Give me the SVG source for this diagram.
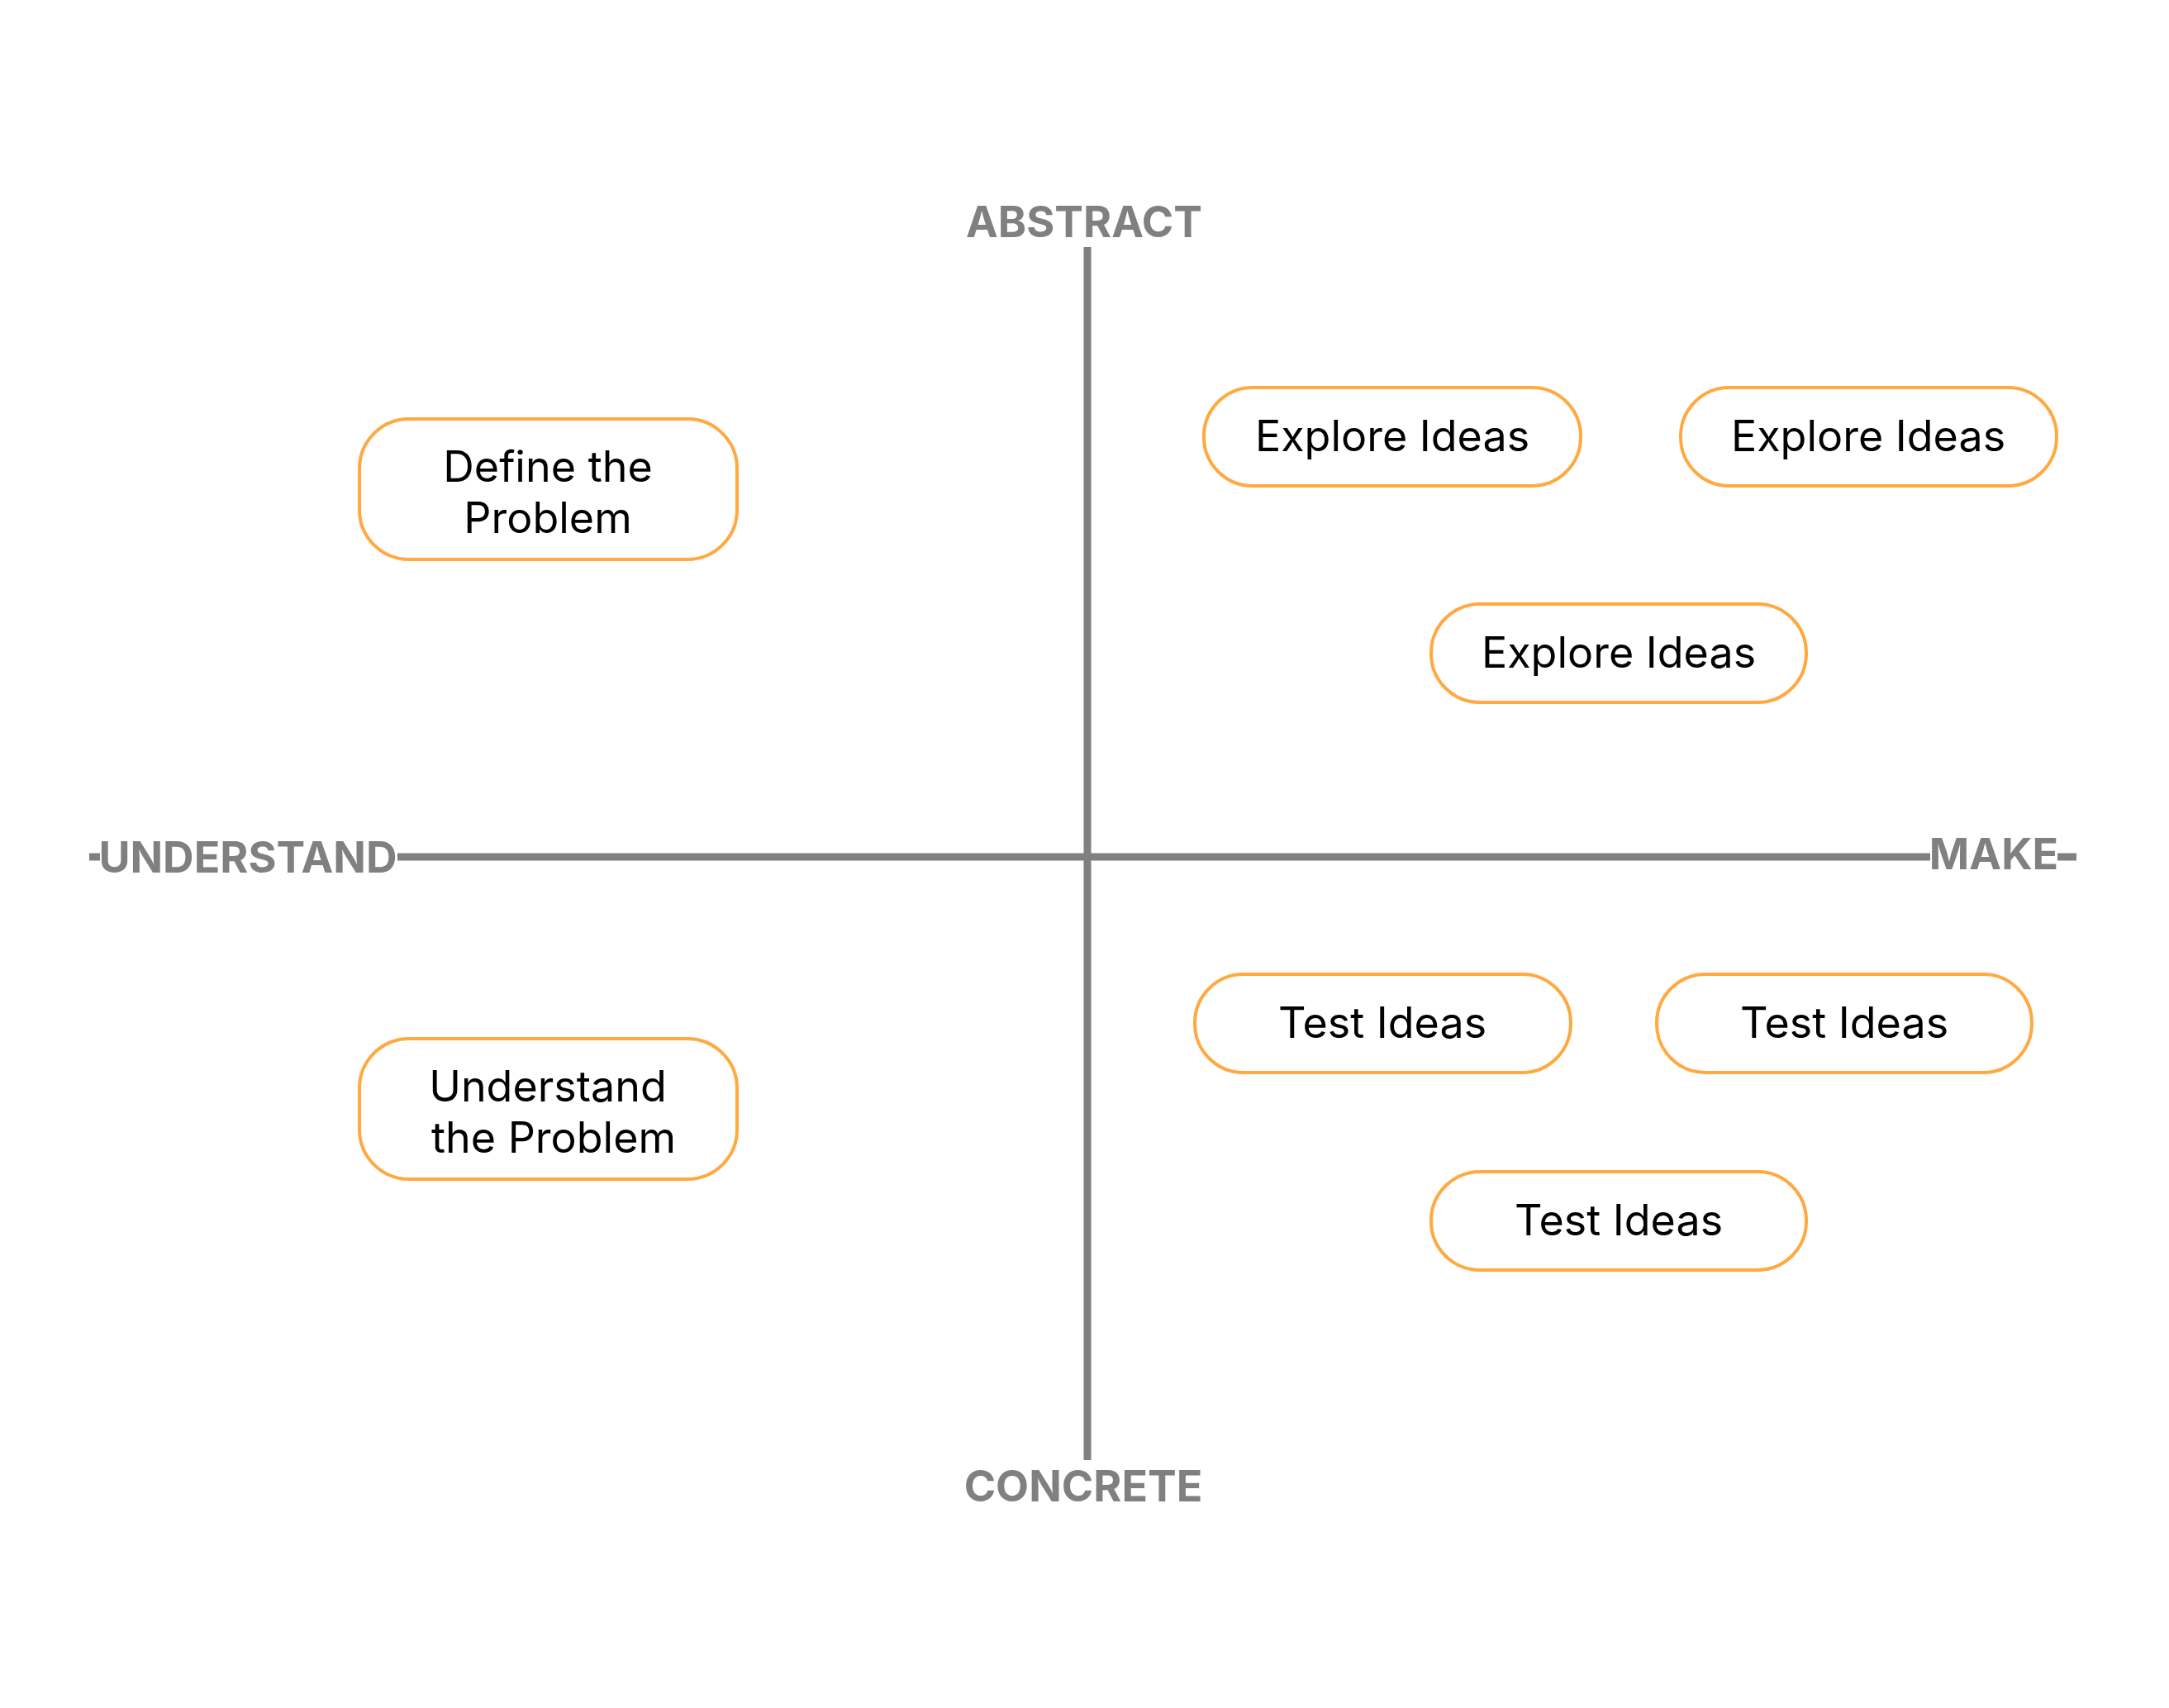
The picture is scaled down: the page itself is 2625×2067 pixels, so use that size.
<svg xmlns="http://www.w3.org/2000/svg" width="2625" height="2067" viewBox="0 0 2625 2067">
<style>
.node rect{fill:#fff;stroke:#FFA940;stroke-width:4}
.node text{font-family:Inter,"Liberation Sans",sans-serif;font-size:52px;fill:#000;text-anchor:middle}
.axis{stroke:#808080;stroke-width:9;fill:none}
.lbl{font-family:Inter,"Liberation Sans",sans-serif;font-weight:700;font-size:52px;fill:#808080;text-anchor:middle}
</style>
<rect width="2625" height="2067" fill="#fff"/>
<g id="connectors">
<line class="axis" x1="1316" y1="299" x2="1316" y2="1767"/>
<line class="axis" x1="108" y1="1037" x2="2513" y2="1037"/>
</g>
<g id="axis-labels">
<text class="lbl" x="1312" y="287">ABSTRACT</text>
<text class="lbl" x="1311" y="1817">CONCRETE</text>
<rect x="121" y="1010" width="360" height="56" fill="#fff"/>
<text class="lbl" x="300" y="1056">UNDERSTAND</text>
<rect x="2336" y="1006" width="154" height="56" fill="#fff"/>
<text class="lbl" x="2413" y="1052">MAKE</text>
</g>
<g id="define" class="node">
<rect x="435" y="507" width="457" height="170" rx="60"/>
<text x="663" y="583">Define the</text>
<text x="663" y="645">Problem</text>
</g>
<g id="understand" class="node">
<rect x="435" y="1257" width="457" height="170" rx="60"/>
<text x="663" y="1333">Understand</text>
<text x="670" y="1395">the Problem</text>
</g>
<g id="explore1" class="node">
<rect x="1457" y="469" width="456" height="119" rx="59"/>
<text x="1685" y="546">Explore Ideas</text>
</g>
<g id="explore2" class="node">
<rect x="2034" y="469" width="455" height="119" rx="59"/>
<text x="2261" y="546">Explore Ideas</text>
</g>
<g id="explore3" class="node">
<rect x="1732" y="731" width="454" height="119" rx="59"/>
<text x="1959" y="808">Explore Ideas</text>
</g>
<g id="test1" class="node">
<rect x="1446" y="1179" width="455" height="119" rx="59"/>
<text x="1673" y="1256">Test Ideas</text>
</g>
<g id="test2" class="node">
<rect x="2005" y="1179" width="454" height="119" rx="59"/>
<text x="2232" y="1256">Test Ideas</text>
</g>
<g id="test3" class="node">
<rect x="1732" y="1418" width="454" height="119" rx="59"/>
<text x="1959" y="1495">Test Ideas</text>
</g>
</svg>
